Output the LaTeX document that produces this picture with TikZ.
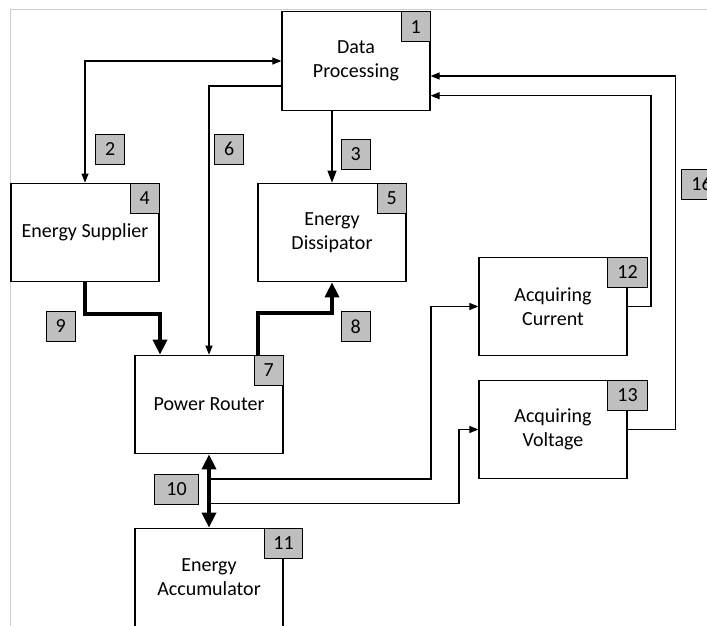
\documentclass[tikz,border=0pt]{standalone}
\usepackage{fontspec}
\setmainfont{Carlito}
\usetikzlibrary{arrows.meta}
\definecolor{labgray}{RGB}{191,191,191}
\definecolor{framegray}{RGB}{205,205,205}
\begin{document}
\begin{tikzpicture}[x=1pt,y=-1pt,
  box/.style={draw, line width=1.2pt, minimum width=148pt, minimum height=98.5pt, inner sep=0pt, align=center, font=\fontsize{20}{24}\selectfont},
  lab/.style={draw, line width=1pt, fill=labgray, minimum height=30pt, minimum width=29pt, inner sep=0pt, font=\fontsize{20}{24}\selectfont},
  labw/.style={lab, minimum width=40pt},
  conn/.style={line width=1.1pt, -{Triangle[length=9pt,width=7pt]}},
  conntwo/.style={line width=1.1pt, {Triangle[length=9pt,width=7pt]}-{Triangle[length=9pt,width=7pt]}},
  heavyconn/.style={line width=3.5pt, -{Triangle[length=15pt,width=14pt]}},
  heavytwo/.style={line width=3.5pt, {Triangle[length=15pt,width=14pt]}-{Triangle[length=15pt,width=14pt]}},
]
\useasboundingbox (0,0) rectangle (707,626);
\fill[white] (0,0) rectangle (707,626);
\draw[framegray, line width=0.8pt] (10.8,630) -- (10.8,9.5) -- (710,9.5);

% boxes
\node[box] (b1) at (356,61) {Data\\Processing};
\node[box] (b4) at (85,232.5) {Energy Supplier};
\node[box] (b5) at (332,232.5) {Energy\\Dissipator};
\node[box] (b12) at (553,306.5) {Acquiring\\Current};
\node[box] (b7) at (209,404.5) {Power Router};
\node[box] (b13) at (553,429.5) {Acquiring\\Voltage};
\node[box] (b11) at (209,577.5) {Energy\\Accumulator};

% connectors
\draw[conntwo] (b4.north) |- (b1.west);
\draw[conn] (b1.west |- 0,86) -| (b7.north);
\draw[conn, -{Triangle[length=12pt,width=9pt]}] (b5.north |- b1.south) -- (b5.north);
\draw[heavyconn] (b4.south) -- (b4.south |- 0,314) -| ([xshift=-49pt]b7.north);
\draw[heavyconn] ([xshift=49pt]b7.north) -- ([xshift=49pt]b7.north |- 0,313) -| (b5.south);
\draw[heavytwo] (b7.south) -- (b11.north);
\draw[conn] (b7.south |- 0,479) -| (431,306.5) -- (b12.west);
\draw[conn] (b7.south |- 0,503.7) -| (459,429.5) -- (b13.west);
\draw[conn] (b12.east) -| (651,95.7) -- (b1.east |- 0,95.7);
\draw[conn] (b13.east) -| (675.4,76) -- (b1.east |- 0,76);

% labels
\node[lab, anchor=north east] (l1) at (b1.north east) {1};
\node[lab, anchor=north east] (l4) at (b4.north east) {4};
\node[lab, anchor=north east] (l5) at (b5.north east) {5};
\node[lab, anchor=north east] (l7) at (b7.north east) {7};
\node[labw, anchor=north] (l12) at (b12.north east) {12};
\node[labw, anchor=north] (l13) at (b13.north east) {13};
\node[labw, minimum width=38pt, anchor=north] (l11) at (b11.north east) {11};
\node[lab] (l2) at (110.2,149) {2};
\node[lab] (l6) at (229.3,149) {6};
\node[lab] (l3) at (355.7,154) {3};
\node[lab] (l9) at (60.6,326.3) {9};
\node[lab] (l8) at (355.8,326.3) {8};
\node[labw, minimum width=44pt] (l10) at (176.5,489) {10};
\node[labw, anchor=west] (l16) at (681,184) {16};
\end{tikzpicture}
\end{document}
